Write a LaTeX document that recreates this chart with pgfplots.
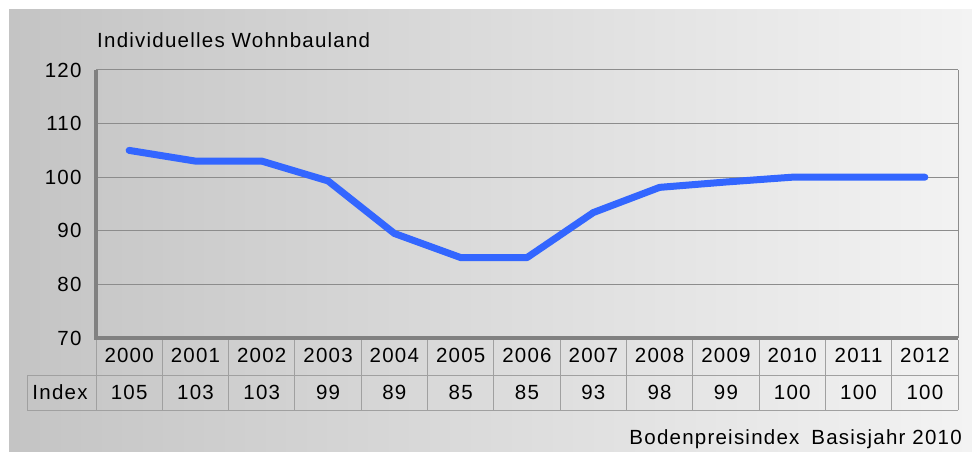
\documentclass[border=0pt]{standalone}
\usepackage{pgfplots}
\pgfplotsset{compat=1.18}
\usepackage{fontspec}
\setmainfont[LetterSpace=6]{Liberation Sans}
\definecolor{lineblue}{HTML}{3366FF}
\definecolor{gridgray}{HTML}{8C8C8C}
\definecolor{axgray}{HTML}{808080}
\definecolor{bgL}{HTML}{C4C4C4}
\definecolor{bgR}{HTML}{F3F3F3}
\definecolor{tabgray}{HTML}{A0A0A0}
\begin{document}
\begin{tikzpicture}[x=1bp,y=1bp,font=\fontsize{20.5bp}{24bp}\selectfont]
\useasboundingbox (0,0) rectangle (972,452);
\fill[white] (0,0) rectangle (972,452);
\shade[left color=bgL, right color=bgR] (9,0) rectangle (972,442);
\begin{axis}[at={(96bp,114bp)}, anchor=south west, scale only axis,
  width=862bp, height=268bp,
  xmin=-0.5, xmax=12.5, ymin=70, ymax=120,
  ytick={70,80,...,120},
  xtick={0,...,12},
  xticklabels={2000,2001,2002,2003,2004,2005,2006,2007,2008,2009,2010,2011,2012},
  axis line style={draw=none},
  major tick length=0pt,
  ymajorgrids, grid style={gridgray, line width=1bp},
  tick label style={font=\fontsize{20.5bp}{24bp}\selectfont},
  /pgf/number format/assume math mode=true,
  /pgf/number format/1000 sep={},
  yticklabel style={anchor=east, xshift=-11bp},
  xticklabel style={anchor=center, yshift=-17.5bp},
  clip=false]
\addplot[lineblue, line width=7bp, line join=round, line cap=round] coordinates {
 (0,105) (1,103) (2,103) (3,99.3) (4,89.5) (5,85) (6,85) (7,93.4) (8,98.1) (9,99.1) (10,100) (11,100) (12,100)};
\draw[gridgray, line width=1bp] (rel axis cs:1,0) -- (rel axis cs:1,1);
\draw[axgray, line width=4.5bp] (rel axis cs:0,1) -- (rel axis cs:0,0) -- (rel axis cs:1,0);
\end{axis}
% data table
\foreach \k in {0,...,13} {
  \draw[tabgray, line width=1bp] ({96+66.3077*\k},112) -- ({96+66.3077*\k},41.5);
}
\draw[tabgray, line width=1bp] (27,76.5) -- (958,76.5);
\draw[tabgray, line width=1bp] (27,41.5) -- (958,41.5);
\draw[tabgray, line width=1bp] (27,76.5) -- (27,41.5);
\node[anchor=center] at (60,59.5) {Index};
\foreach \v [count=\i from 0] in {105,103,103,99,89,85,85,93,98,99,100,100,100} {
  \node[anchor=center] at ({96+66.3077*\i+33.15},59.5) {\v};
}
\node[anchor=base west, inner sep=0] at (97,404) {Individuelles Wohnbauland};
\node[anchor=base east, inner sep=0] at (962,7) {Bodenpreisindex\hspace{12bp}Basisjahr 2010};
\end{tikzpicture}
\end{document}
